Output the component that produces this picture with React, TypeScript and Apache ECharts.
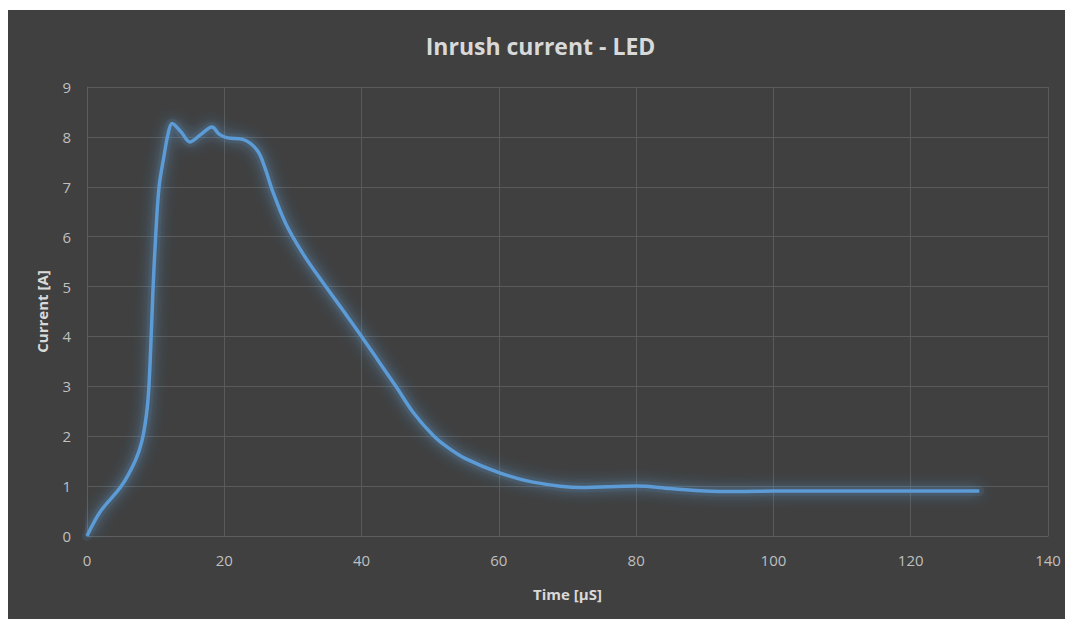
import React, { useEffect, useRef } from "react";
import * as echarts from "echarts";

const titleText = "Inrush current - LED";
const xAxisName = "Time [µS]";
const yAxisName = "Current [A]";

const times = [0, 2, 5, 7, 8, 8.8, 9.2, 9.6, 10, 10.5, 11.2, 11.8, 12.4, 13.7, 15, 16.6, 18.2, 19.3, 20.5, 22.7, 24.8, 26, 27, 29, 31.5, 34, 37, 40, 42.5, 45, 47.5, 50.4, 52.5, 55, 60, 65, 72, 80, 85, 90, 95, 100, 110, 120, 130];
const currents = [0, 0.5, 1.0, 1.5, 1.9, 2.6, 3.5, 4.9, 6.0, 7.0, 7.6, 8.05, 8.27, 8.1, 7.9, 8.05, 8.2, 8.05, 7.98, 7.95, 7.73, 7.35, 6.93, 6.25, 5.65, 5.15, 4.58, 4.0, 3.5, 3.0, 2.48, 2.02, 1.78, 1.56, 1.27, 1.08, 0.97, 1.0, 0.95, 0.9, 0.89, 0.9, 0.9, 0.9, 0.9];

const font = "'Open Sans', sans-serif";

export default function App() {
  const ref = useRef<HTMLDivElement>(null);
  useEffect(() => {
    if (!ref.current) return;
    const chart = echarts.init(ref.current, undefined, { renderer: "svg" });
    const data = times.map((t, i) => [t, currents[i]]);
    chart.setOption({
      animation: false,
      backgroundColor: "#404040",
      title: {
        text: titleText,
        left: "center",
        top: 19,
        textStyle: { color: "#d9d9d9", fontSize: 23, fontWeight: "bold", fontFamily: font },
      },
      grid: { left: 79, right: 25, top: 77, bottom: 83, containLabel: false },
      xAxis: {
        type: "value",
        min: 0,
        max: 140,
        interval: 20,
        name: xAxisName,
        nameLocation: "middle",
        nameGap: 50,
        nameTextStyle: { color: "#d9d9d9", fontSize: 15, fontWeight: "bold", fontFamily: font },
        axisLine: { show: true, lineStyle: { color: "#5e5e5e", width: 1 } },
        axisTick: { show: false },
        axisLabel: { color: "#bfbfbf", fontSize: 15, margin: 16, fontFamily: font },
        splitLine: { show: true, lineStyle: { color: "#5a5a5a", width: 1 } },
      },
      yAxis: {
        type: "value",
        min: 0,
        max: 9,
        interval: 1,
        name: yAxisName,
        nameLocation: "middle",
        nameGap: 38,
        nameRotate: 90,
        nameTextStyle: { color: "#d9d9d9", fontSize: 15, fontWeight: "bold", fontFamily: font },
        axisLine: { show: true, lineStyle: { color: "#5e5e5e", width: 1 } },
        axisTick: { show: false },
        axisLabel: { color: "#bfbfbf", fontSize: 15, margin: 16, fontFamily: font },
        splitLine: { show: true, lineStyle: { color: "#5a5a5a", width: 1 } },
      },
      series: [
        {
          type: "line",
          data,
          smooth: 0.35,
          showSymbol: false,
          symbol: "none",
          silent: true,
          lineStyle: {
            color: "rgba(91,155,213,0.1)",
            width: 10,
            cap: "round",
            join: "round",
            shadowColor: "rgba(91,155,213,0.6)",
            shadowBlur: 18,
          },
        },
        {
          type: "line",
          data,
          smooth: 0.35,
          showSymbol: false,
          symbol: "none",
          lineStyle: {
            color: "#5b9bd5",
            width: 3.5,
            shadowColor: "rgba(91,155,213,0.95)",
            shadowBlur: 14,
          },
        },
      ],
    });
    return () => chart.dispose();
  }, []);
  return <div ref={ref} style={{ width: 1065, height: 609, marginTop: 2 }} />;
}
